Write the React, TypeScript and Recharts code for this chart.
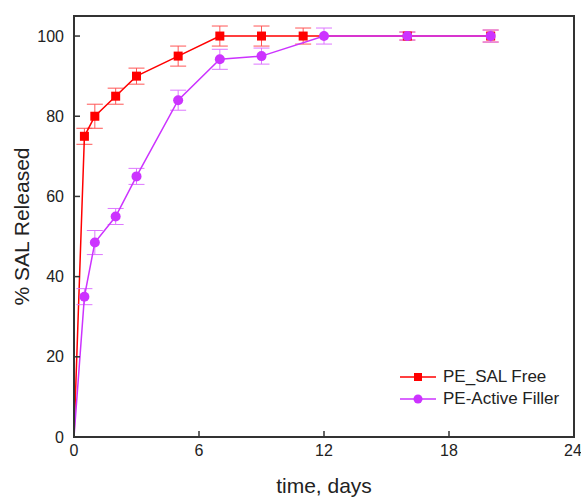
import React from 'react';
import { LineChart, Line, XAxis, YAxis, ErrorBar, ReferenceArea } from 'recharts';

// PE_SAL Free
const freeDays = [0, 0.5, 1, 2, 3, 5, 7, 9, 11, 16, 20];
const freeRelease = [0, 75, 80, 85, 90, 95, 100, 100, 100, 100, 100];
const freeErr = [0, 2, 3, 2, 2, 2.5, 2.5, 2.5, 2, 1, 1.5];

// PE-Active Filler
const fillerDays = [0, 0.5, 1, 2, 3, 5, 7, 9, 12, 16, 20];
const fillerRelease = [0, 35, 48.5, 55, 65, 84, 94.2, 95, 100, 100, 100];
const fillerErr = [0, 2, 3, 2, 2, 2.5, 2.5, 2, 2, 1, 1.5];

const xTicks = [0, 6, 12, 18, 24];
const yTicks = [0, 20, 40, 60, 80, 100];

const RED = '#FF0000';
const PURPLE = '#CC33FF';
const AXIS = '#333333';
const FONT = '"Liberation Sans", Arial, sans-serif';

const freeData = freeDays.map((t, i) => ({ t, v: freeRelease[i], err: freeErr[i] }));
const fillerData = fillerDays.map((t, i) => ({ t, v: fillerRelease[i], err: fillerErr[i] }));

const SquareDot = (props: any) => {
  const { cx, cy, payload, index } = props;
  if (payload.t === 0) return <g key={`s-${index}`} />;
  return <rect key={`s-${index}`} x={cx - 4.5} y={cy - 4.5} width={9} height={9} fill={RED} />;
};

const CircleDot = (props: any) => {
  const { cx, cy, payload, index } = props;
  if (payload.t === 0) return <g key={`c-${index}`} />;
  return <circle key={`c-${index}`} cx={cx} cy={cy} r={5} fill={PURPLE} />;
};

const tickStyle = { fill: '#222', fontSize: 16, fontFamily: FONT };

const LegendRow = ({ color, square, label, top }: { color: string; square: boolean; label: string; top: number }) => (
  <div style={{ position: 'absolute', left: 400, top, height: 22, display: 'flex', alignItems: 'center' }}>
    <svg width={38} height={22}>
      <line x1={0} y1={11} x2={36} y2={11} stroke={color} strokeWidth={1.5} />
      {square ? <rect x={14} y={7} width={8} height={8} fill={color} /> : <circle cx={18} cy={11} r={4.5} fill={color} />}
    </svg>
    <span style={{ fontFamily: FONT, fontSize: 17, color: '#222', marginLeft: 5, whiteSpace: 'nowrap' }}>{label}</span>
  </div>
);

export default function App() {
  return (
    <div style={{ position: 'absolute', left: 0, top: 0, width: 581, height: 498, background: '#fff' }}>
      <LineChart width={581} height={498} margin={{ top: 16, right: 7, bottom: 0, left: 0 }}>
        <XAxis
          xAxisId="b"
          dataKey="t"
          type="number"
          domain={[0, 24]}
          ticks={xTicks}
          height={61}
          tickSize={-6}
          tickMargin={14}
          tick={tickStyle}
          axisLine={{ stroke: AXIS, strokeWidth: 2 }}
          tickLine={{ stroke: AXIS, strokeWidth: 1.5 }}
          label={{ value: 'time, days', position: 'insideBottom', offset: 5, style: { fill: '#222', fontSize: 21, fontFamily: FONT } }}
        />
        <YAxis
          yAxisId="l"
          type="number"
          domain={[0, 105]}
          ticks={yTicks}
          width={74}
          tickSize={-6}
          tickMargin={16}
          tick={tickStyle}
          axisLine={{ stroke: AXIS, strokeWidth: 2 }}
          tickLine={{ stroke: AXIS, strokeWidth: 1.5 }}
          label={{ value: '% SAL Released', angle: -90, position: 'insideLeft', offset: 22, style: { textAnchor: 'middle', fill: '#222', fontSize: 21, fontFamily: FONT } }}
        />
        <ReferenceArea xAxisId="b" yAxisId="l" x1={0} x2={24} y1={0} y2={105} fill="none" stroke={AXIS} strokeWidth={2} />
        <Line
          xAxisId="b"
          yAxisId="l"
          data={freeData}
          dataKey="v"
          stroke={RED}
          strokeWidth={1.5}
          dot={SquareDot}
          activeDot={false}
          isAnimationActive={false}
        >
          <ErrorBar dataKey="err" direction="y" width={8} stroke="#FF5555" strokeWidth={1} />
        </Line>
        <Line
          xAxisId="b"
          yAxisId="l"
          data={fillerData}
          dataKey="v"
          stroke={PURPLE}
          strokeWidth={1.5}
          dot={CircleDot}
          activeDot={false}
          isAnimationActive={false}
        >
          <ErrorBar dataKey="err" direction="y" width={8} stroke="#DD77FF" strokeWidth={1} />
        </Line>
      </LineChart>
      <LegendRow color={RED} square label="PE_SAL Free" top={366} />
      <LegendRow color={PURPLE} square={false} label="PE-Active Filler" top={388} />
    </div>
  );
}
